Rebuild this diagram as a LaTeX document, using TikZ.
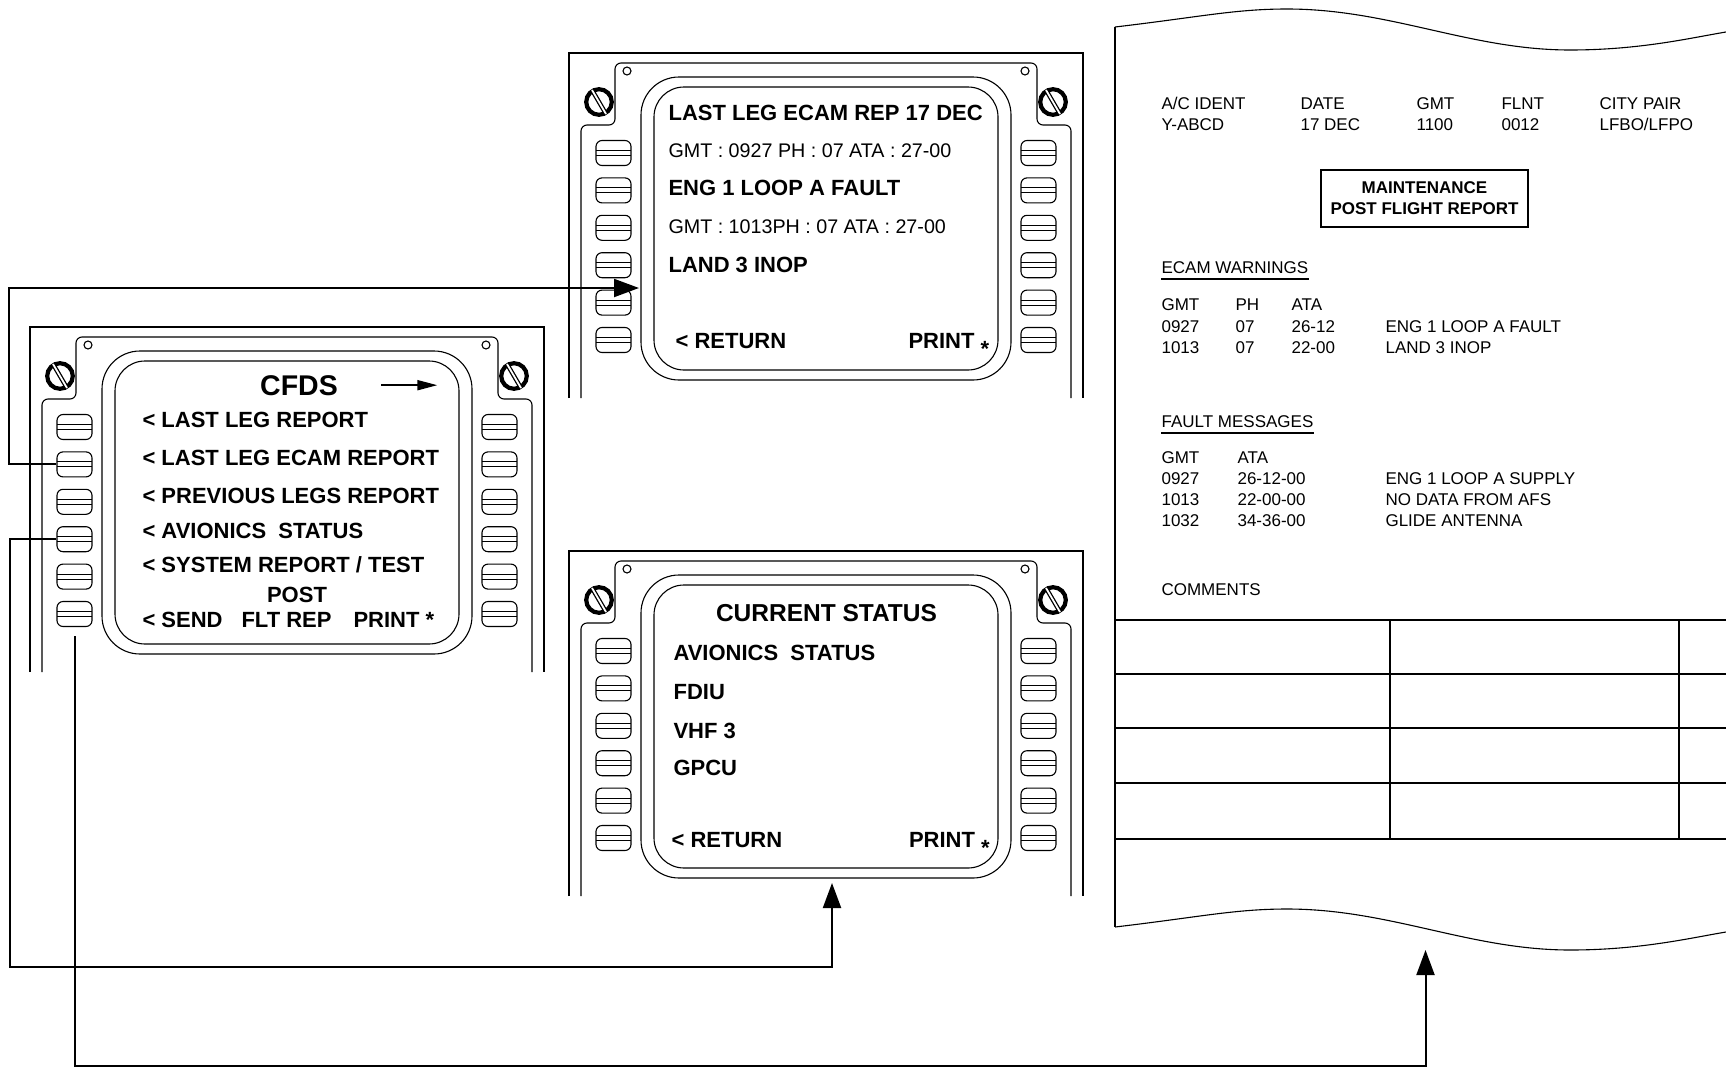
\documentclass[tikz,border=0pt]{standalone}
\usepackage{fontspec}
\setmainfont{Liberation Sans}
\usetikzlibrary{arrows.meta}

\begin{document}
\begin{tikzpicture}[x=1pt, y=-1pt, line width=1.1pt,
    key/.style={draw, rounded corners=6pt, minimum width=35pt, minimum height=25pt, inner sep=0pt,
      path picture={\draw ([yshift=2.5pt]path picture bounding box.west) -- ([yshift=2.5pt]path picture bounding box.east)
                          ([yshift=-2.5pt]path picture bounding box.west) -- ([yshift=-2.5pt]path picture bounding box.east);}},
    scr/.style={anchor=base west, inner sep=0pt, font=\fontsize{22}{26}\selectfont\bfseries},
    scrthin/.style={anchor=base west, inner sep=0pt, font=\fontsize{19.7}{24}\selectfont},
    rep/.style={anchor=base west, inner sep=0pt, font=\fontsize{17}{20}\selectfont},
    link/.style={line width=2pt, -{Triangle[length=25pt, width=18pt]}}]
    \useasboundingbox (0,0) rectangle (1726,1068);

    % 三个显示器
    \foreach \u/\dx/\dy in {ecam/569/53, cfds/30/327, stat/569/551}{
      \begin{scope}[shift={(\dx,\dy)}]
        \draw (0,345) -- (0,0) -- (514,0) -- (514,345);
        \draw[rounded corners=6pt] (12,345) -- (12,72) -- (46,72) -- (46,10) -- (468,10) -- (468,72) -- (502,72) -- (502,345);
        \draw[rounded corners=38pt] (72,24) rectangle (442,327);
        \draw[rounded corners=30pt] (85,34) rectangle (429,317);
        \foreach \sx in {30,484}{
          \draw[line width=4.2pt] (\sx,49) circle (12.8);
          \draw[line width=1.3pt, double distance=1.8pt] ({\sx-7},37) -- ({\sx+7},61);
        }
        \draw (58,18) circle (4) (456,18) circle (4);
        \foreach \i in {1,...,6}{
          \node[key] (\u-L\i) at (44.5,{100+37.4*(\i-1)}) {};
          \node[key] (\u-R\i) at (469.5,{100+37.4*(\i-1)}) {};
        }
      \end{scope}
    }

    % CFDS 菜单
    \node[anchor=base, inner sep=0pt, font=\fontsize{28.5}{32}\selectfont\bfseries] (cfds-title) at (299,395) {CFDS};
    \draw[line width=1.8pt, -{Triangle[length=20pt, width=10pt]}] ([xshift=43pt]cfds-title.east) -- ++(56,0);
    \node[scr] (cfds-m1) at (142,427) {< LAST LEG REPORT};
    \node[scr] (cfds-m2) at (142,465) {< LAST LEG ECAM REPORT};
    \node[scr] (cfds-m3) at (142,503) {< PREVIOUS LEGS REPORT};
    \node[scr] (cfds-m4) at (142,538) {< AVIONICS\ \ STATUS};
    \node[scr] (cfds-m5) at (142,572) {< SYSTEM REPORT / TEST};
    \node[scr, anchor=base] (cfds-post) at (297,602) {POST};
    \node[scr] (cfds-m6) at (142,627) {< SEND};
    \node[scr] (cfds-flt) at (241,627) {FLT REP};
    \node[scr] (cfds-prt) at (353,627) {PRINT *};

    % ECAM 报告页
    \node[scr] (ecam-title) at (668,120) {LAST LEG ECAM REP 17 DEC};
    \node[scrthin] (ecam-t1) at (668,157) {GMT : 0927 PH : 07 ATA : 27-00};
    \node[scr] (ecam-w1) at (668,195) {ENG 1 LOOP A FAULT};
    \node[scrthin] (ecam-t2) at (668,233) {GMT : 1013PH : 07 ATA : 27-00};
    \node[scr] (ecam-w2) at (668,272) {LAND 3 INOP};
    \node[scr] (ecam-ret) at (675,348) {< RETURN};
    \node[scr] (ecam-prt) at (908,348) {PRINT \raisebox{-.4em}{*}};

    % 当前状态页
    \node[anchor=base, inner sep=0pt, font=\fontsize{24.5}{28}\selectfont\bfseries] (stat-title) at (826.5,621) {CURRENT STATUS};
    \node[scr] (stat-s1) at (673,660) {AVIONICS\ \ STATUS};
    \node[scr] (stat-s2) at (673,699) {FDIU};
    \node[scr] (stat-s3) at (673,738) {VHF 3};
    \node[scr] (stat-s4) at (673,775) {GPCU};
    \node[scr] (stat-ret) at (671,847) {< RETURN};
    \node[scr] (stat-prt) at (908.5,847) {PRINT \raisebox{-.4em}{*}};

    % 打印报告
    \draw (1115,27) .. controls (1200,17) and (1235,9) .. (1287,9) .. controls (1390,9) and (1470,50) .. (1570,50) .. controls (1640,50) and (1690,38) .. (1726,32);
    \draw (1115,927) .. controls (1200,917) and (1235,909) .. (1287,909) .. controls (1390,909) and (1470,950) .. (1570,950) .. controls (1640,950) and (1690,938) .. (1726,932);
    \draw (1115,27) -- (1115,927);

    \foreach \t/\a/\b/\x in {id/A\slash C IDENT/Y-ABCD/1161, date/DATE/17 DEC/1300, gmt/GMT/1100/1416, flnt/FLNT/0012/1501, city/CITY PAIR/LFBO\slash LFPO/1599}{
      \node[rep] (rep-\t) at (\x,109) {\a};
      \node[rep] (rep-\t-v) at (\x,130) {\b};
    }
    \node[draw, line width=2.4pt, minimum width=207pt, minimum height=57pt, align=center,
          font=\fontsize{17}{21}\selectfont\bfseries] (rep-title) at (1424.5,198.5) {MAINTENANCE\\POST FLIGHT REPORT};

    \node[rep] (ecamw) at (1161,273) {ECAM WARNINGS};
    \draw ([yshift=-6pt]ecamw.base west) -- ([yshift=-6pt]ecamw.base east);
    \node[rep] (ew-h1) at (1161,310) {GMT};
    \node[rep] (ew-h2) at (1235,310) {PH};
    \node[rep] (ew-h3) at (1291,310) {ATA};
    \foreach \i/\g/\p/\c/\m/\y in {1/0927/07/26-12/ENG 1 LOOP A FAULT/332, 2/1013/07/22-00/LAND 3 INOP/353}{
      \node[rep] (ew-\i-g) at (1161,\y) {\g};
      \node[rep] (ew-\i-p) at (1235,\y) {\p};
      \node[rep] (ew-\i-c) at (1291,\y) {\c};
      \node[rep] (ew-\i-m) at (1385,\y) {\m};
    }

    \node[rep] (faultm) at (1161,427) {FAULT MESSAGES};
    \draw ([yshift=-6pt]faultm.base west) -- ([yshift=-6pt]faultm.base east);
    \node[rep] (fm-h1) at (1161,463) {GMT};
    \node[rep] (fm-h2) at (1237,463) {ATA};
    \foreach \i/\g/\c/\m/\y in {1/0927/26-12-00/ENG 1 LOOP A SUPPLY/484, 2/1013/22-00-00/NO DATA FROM AFS/505, 3/1032/34-36-00/GLIDE ANTENNA/526}{
      \node[rep] (fm-\i-g) at (1161,\y) {\g};
      \node[rep] (fm-\i-c) at (1237,\y) {\c};
      \node[rep] (fm-\i-m) at (1385,\y) {\m};
    }
    \node[rep] (comments) at (1161,595) {COMMENTS};

    % 表格
    \foreach \y in {620,674,728,783,839} \draw (1115,\y) -- (1726,\y);
    \foreach \x in {1390,1679} \draw (\x,620) -- (\x,839);

    % 连线
    \coordinate (ecam-in) at (639,288);
    \coordinate (stat-in) at (832,883);
    \coordinate (rep-in) at (1425.5,950);
    \coordinate (turn) at (10,967);
    \coordinate (floor) at (0,1066);
    \draw[link] (cfds-L2.west) -- ++(-47,0) |- (ecam-in);
    \draw[link] (cfds-L4.west) -| (turn) -| (stat-in);
    \draw[link] ([yshift=-9pt]cfds-L6.south) -- (cfds-L6 |- floor) -| (rep-in);
\end{tikzpicture}
\end{document}
